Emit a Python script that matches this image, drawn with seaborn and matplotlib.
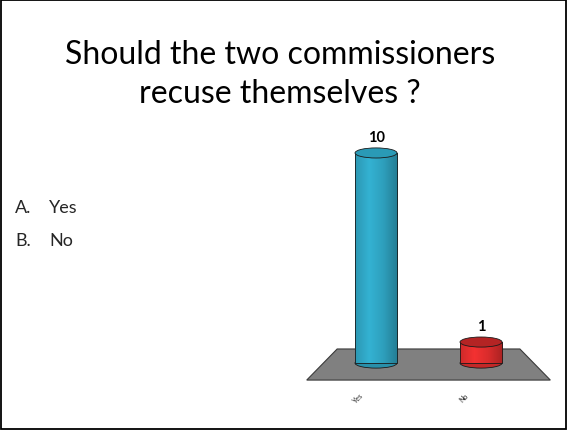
import numpy as np
import matplotlib
matplotlib.use("Agg")
import matplotlib.pyplot as plt
import seaborn as sns
from matplotlib.patches import Ellipse, Polygon, Rectangle
from matplotlib.colors import LinearSegmentedColormap, to_rgb
from matplotlib.transforms import ScaledTranslation

# dados
respostas = ["Yes", "No"]
votos = [10, 1]
opcoes = ["A.", "B."]
cores = ["#2E9FBC", "#D92C2C"]
cores_topo = ["#2A9AB6", "#B42424"]

titulo = "Should the two commissioners\nrecuse themselves ?"

sns.set_theme(style="white")
plt.rcParams["font.family"] = ["Lato", "DejaVu Sans"]

fig = plt.figure(figsize=(5.68, 4.31), dpi=100)
ax = fig.add_axes([300 / 568, 1 - 392 / 431, 260 / 568, 262 / 431])

sns.barplot(x=respostas, y=votos, hue=respostas, palette=cores, legend=False,
            width=0.4, edgecolor="#1a1a1a", linewidth=0.6, ax=ax, zorder=3)

n = len(respostas)
# piso cinza em perspectiva
piso = Polygon([(-0.37, 0.67), (n - 1 + 0.37, 0.67),
                (n - 1 + 0.66, -0.81), (-0.66, -0.81)],
               closed=True, facecolor="#808080", edgecolor="#3a3a3a",
               linewidth=0.8, zorder=1)
ax.add_patch(piso)

elip_h = 0.48
for i, p in enumerate(list(ax.patches)[:n]):
    x0 = p.get_x()
    w = p.get_width()
    h = p.get_height()
    cx = x0 + w / 2
    base = np.array(to_rgb(cores[i]))
    cmap = LinearSegmentedColormap.from_list(
        "cil", [base * 0.95, np.minimum(base * 1.12, 1), base, base * 0.78])
    grad = np.linspace(0, 1, 120).reshape(1, -1)
    # base do cilindro
    ax.add_patch(Ellipse((cx, 0), w, elip_h, facecolor=base * 0.9,
                         edgecolor="#1a1a1a", linewidth=0.6, zorder=2.5))
    im = ax.imshow(grad, extent=[x0, x0 + w, 0, h], cmap=cmap,
                   aspect="auto", zorder=2.9, interpolation="bilinear")
    im.set_clip_path(p)
    p.set_facecolor("none")
    # topo do cilindro
    ax.add_patch(Ellipse((cx, h), w, elip_h, facecolor=cores_topo[i],
                         edgecolor="#1a1a1a", linewidth=0.6, zorder=4))
    ax.text(cx, h + elip_h / 2 + 0.2, f"{votos[i]}", ha="center",
            va="bottom", fontsize=10.5, fontweight="bold", color="black",
            zorder=5)

ax.set_xlim(-0.724, n - 1 + 0.752)
ax.set_ylim(-1.33, 11.14)
ax.set_yticks([])
ax.set_xlabel("")
ax.set_ylabel("")
for s in ax.spines.values():
    s.set_visible(False)
ax.tick_params(axis="x", length=0, pad=0, labelsize=5)
plt.setp(ax.get_xticklabels(), rotation=45, ha="right", va="top")
for lbl in ax.get_xticklabels():
    lbl.set_transform(lbl.get_transform()
                      + ScaledTranslation(-0.11, 0, fig.dpi_scale_trans))
ax.patch.set_alpha(0)

# titulo e opcoes
fig.text(280 / 568, 1 - 40 / 431, titulo, ha="center", va="top",
         fontsize=23, linespacing=1.38, color="black")
for k, (o, r) in enumerate(zip(opcoes, respostas)):
    yb = 1 - (213 + 33.5 * k) / 431
    fig.text(15 / 568, yb, o, ha="left", va="baseline", fontsize=13)
    fig.text(49 / 568, yb, r, ha="left", va="baseline", fontsize=13)

# borda do slide
fig.patches.append(Rectangle((0.002, 0.003), 0.995, 0.994,
                             transform=fig.transFigure, fill=False,
                             edgecolor="black", linewidth=1.3))

plt.savefig("out.png", dpi=100)
